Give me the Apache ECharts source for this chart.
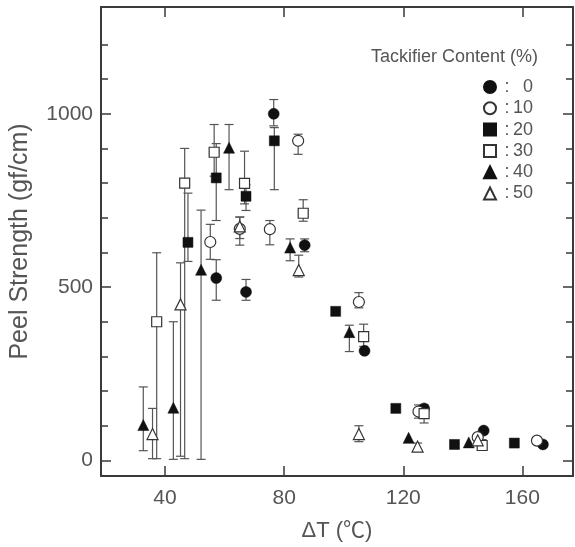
<!DOCTYPE html>
<html>
<head>
<meta charset="utf-8">
<script src="https://cdn.jsdelivr.net/npm/echarts@6/dist/echarts.min.js"></script>
<style>
  html, body { margin: 0; padding: 0; background: #fff; }
  #chart { width: 575px; height: 547px; }
</style>
</head>
<body>
<div id="chart"></div>
<script>
// tick labels
var xTicks = [40, 80, 120, 160];
var yMajor = [0, 500, 1000];
var yMinor = [100, 200, 300, 400, 600, 700, 800, 900, 1100, 1200];

// tackifier content 0 %  (filled circle)
var x0 = [57.2, 67.2, 76.5, 86.9, 107.0, 127.0, 147.0, 166.9];
var y0 = [526, 486, 1000, 621, 316, 150, 86, 46];
var lo0 = [462, 462, 965, 602, null, null, null, null];
var hi0 = [579, 522, 1041, 639, null, null, null, null];

// 10 % (open circle)
var x10 = [55.2, 65.1, 75.2, 84.7, 105.1, 125.1, 145.0, 164.9];
var y10 = [630, 668, 667, 922, 457, 141, 67, 57];
var lo10 = [580, 621, 622, 883, 440, 122, null, null];
var hi10 = [681, 702, 692, 941, 484, 160, null, null];

// 20 % (filled square)
var x20 = [47.7, 57.2, 67.2, 76.7, 97.3, 117.5, 137.2, 157.3];
var y20 = [629, 815, 762, 922, 430, 150, 46, 50];
var lo20 = [574, 692, 721, 781, null, null, null, null];
var hi20 = [771, 914, 795, 960, null, null, null, null];

// 30 % (open square)
var x30 = [37.2, 46.6, 56.5, 66.7, 86.4, 106.7, 127.0, 146.5];
var y30 = [400, 800, 889, 799, 713, 357, 135, 43];
var lo30 = [5, 5, 820, 740, 690, 329, 108, 30];
var hi30 = [599, 900, 969, 892, 752, 393, 160, 60];

// 40 % (filled triangle)
var x40 = [32.7, 42.8, 52.1, 61.5, 82.0, 101.9, 121.8, 142.0];
var y40 = [102, 152, 550, 902, 614, 370, 65, 52];
var lo40 = [28, 3, 3, 781, 576, 314, null, null];
var hi40 = [212, 400, 722, 969, 639, 390, null, null];

// 50 % (open triangle)
var x50 = [35.8, 45.2, 65.1, 84.9, 105.1, 124.8, 145.0];
var y50 = [76, 450, 675, 549, 76, 40, 58];
var lo50 = [5, 12, 640, 529, 54, 30, null];
var hi50 = [150, 570, 702, 592, 100, 50, null];

var FONT = '"Liberation Sans", Arial, "Noto Sans CJK KR", sans-serif';
var LINE = '#3a3a3a';
var TEXT = '#555';

var groups = [
  { name: '0', x: x0, y: y0, lo: lo0, hi: hi0, symbol: 'circle', size: 11, filled: true },
  { name: '10', x: x10, y: y10, lo: lo10, hi: hi10, symbol: 'circle', size: 11, filled: false },
  { name: '20', x: x20, y: y20, lo: lo20, hi: hi20, symbol: 'rect', size: 10, filled: true },
  { name: '30', x: x30, y: y30, lo: lo30, hi: hi30, symbol: 'rect', size: 10, filled: false },
  { name: '40', x: x40, y: y40, lo: lo40, hi: hi40, symbol: 'triangle', size: 11, filled: true },
  { name: '50', x: x50, y: y50, lo: lo50, hi: hi50, symbol: 'triangle', size: 11, filled: false }
];

function errorBarItem(params, api) {
  var xv = api.value(0);
  var top = api.coord([xv, api.value(2)]);
  var bot = api.coord([xv, api.value(1)]);
  var cap = 4.5;
  var style = { stroke: '#555', lineWidth: 1.2 };
  return {
    type: 'group',
    children: [
      { type: 'line', shape: { x1: top[0], y1: top[1], x2: bot[0], y2: bot[1] }, style: style },
      { type: 'line', shape: { x1: top[0] - cap, y1: top[1], x2: top[0] + cap, y2: top[1] }, style: style },
      { type: 'line', shape: { x1: bot[0] - cap, y1: bot[1], x2: bot[0] + cap, y2: bot[1] }, style: style }
    ]
  };
}

var series = [];
groups.forEach(function (g) {
  var bars = [];
  for (var i = 0; i < g.x.length; i++) {
    if (g.lo[i] !== null) bars.push([g.x[i], g.lo[i], g.hi[i]]);
  }
  series.push({
    type: 'custom',
    name: g.name + '_err',
    renderItem: errorBarItem,
    data: bars,
    z: 1,
    silent: true
  });
});
groups.forEach(function (g) {
  var pts = [];
  for (var i = 0; i < g.x.length; i++) pts.push([g.x[i], g.y[i]]);
  series.push({
    type: 'scatter',
    name: g.name,
    symbol: g.symbol,
    symbolSize: g.size,
    data: pts,
    z: 3,
    itemStyle: g.filled
      ? { color: '#111', borderColor: '#111', borderWidth: 0.5, opacity: 1 }
      : { color: '#fff', borderColor: '#333', borderWidth: 1.2, opacity: 1 }
  });
});

var xRange = { min: 18.5, max: 177 };
var yRange = { min: -45, max: 1308 };

function yAxisOf(pos, ticks, len, showLine, showLabel) {
  return {
    type: 'value',
    position: pos,
    min: yRange.min,
    max: yRange.max,
    axisLine: { show: showLine, onZero: false, lineStyle: { color: LINE, width: 2 } },
    axisTick: { show: true, inside: true, length: len, customValues: ticks, lineStyle: { color: LINE, width: 1.5 } },
    axisLabel: showLabel
      ? { show: true, customValues: ticks, fontSize: 21, color: TEXT, fontFamily: FONT, margin: 8,
          formatter: function (v) { return String(v); } }
      : { show: false },
    splitLine: { show: false }
  };
}

var dom = document.getElementById('chart');
var myChart = echarts.init(dom, null, { renderer: 'canvas' });

var option = {
  animation: false,
  backgroundColor: '#fff',
  grid: { left: 98.5, right: 2, top: 7, bottom: 66 },
  title: {
    text: 'Tackifier Content (%)',
    left: 366,
    top: 43,
    textStyle: { fontSize: 18, fontWeight: 'normal', color: TEXT, fontFamily: FONT }
  },
  legend: {
    data: groups.map(function (g) { return g.name; }),
    orient: 'vertical',
    left: 478,
    top: 73,
    itemWidth: 12,
    itemHeight: 12,
    itemGap: 3.3,
    formatter: function (name) { return '{c|:}{n|' + name + '}'; },
    textStyle: {
      color: TEXT,
      fontFamily: FONT,
      fontSize: 18,
      lineHeight: 18,
      rich: {
        c: { width: 12, align: 'center', fontSize: 18, lineHeight: 18, color: TEXT, fontFamily: FONT },
        n: { width: 20, align: 'right', fontSize: 18, lineHeight: 18, color: TEXT, fontFamily: FONT }
      }
    }
  },
  xAxis: [
    {
      type: 'value',
      position: 'bottom',
      min: xRange.min,
      max: xRange.max,
      name: 'ΔT (℃)',
      nameLocation: 'middle',
      nameGap: 44,
      nameTextStyle: { fontSize: 22, color: TEXT, fontFamily: FONT },
      axisLine: { show: true, onZero: false, lineStyle: { color: LINE, width: 2 } },
      axisTick: { show: true, inside: true, length: 10, customValues: xTicks, lineStyle: { color: LINE, width: 1.5 } },
      axisLabel: { customValues: xTicks, fontSize: 21, color: TEXT, fontFamily: FONT, margin: 12 },
      splitLine: { show: false }
    },
    {
      type: 'value',
      position: 'top',
      min: xRange.min,
      max: xRange.max,
      axisLine: { show: true, onZero: false, lineStyle: { color: LINE, width: 2 } },
      axisTick: { show: true, inside: true, length: 10, customValues: xTicks, lineStyle: { color: LINE, width: 1.5 } },
      axisLabel: { show: false },
      splitLine: { show: false }
    }
  ],
  yAxis: [
    Object.assign(yAxisOf('left', yMajor, 10, true, true), {
      name: 'Peel Strength (gf/cm)',
      nameLocation: 'middle',
      nameGap: 68,
      nameTextStyle: { fontSize: 25, color: TEXT, fontFamily: FONT }
    }),
    yAxisOf('left', yMinor, 7, false, false),
    yAxisOf('right', yMajor, 10, true, false),
    yAxisOf('right', yMinor, 7, false, false)
  ],
  series: series
};

myChart.setOption(option);
</script>
</body>
</html>
